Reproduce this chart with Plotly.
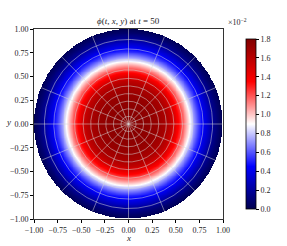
import numpy as np
import plotly.graph_objects as go

# radial profile of phi, units of 1e-2
PROFILE_R = [0.0, 0.1, 0.2, 0.3, 0.4, 0.45, 0.5, 0.55, 0.6, 0.65, 0.7, 0.75, 0.8, 0.85, 0.9, 0.95, 1.0]
PROFILE_PHI = [1.78, 1.77, 1.75, 1.72, 1.65, 1.58, 1.45, 1.30, 1.12, 0.92, 0.72, 0.55, 0.42, 0.30, 0.18, 0.09, 0.02]

# overlay mesh (rings and spokes)
RING_RADII = [0.08, 0.16, 0.24, 0.32, 0.40, 0.48, 0.57, 0.68, 0.79, 0.89]
N_SPOKES = 16

AXIS_TICKS = [-1.0, -0.75, -0.5, -0.25, 0.0, 0.25, 0.5, 0.75, 1.0]
CBAR_TICKS = [0.0, 0.2, 0.4, 0.6, 0.8, 1.0, 1.2, 1.4, 1.6, 1.8]

def fmt(v):
    s = f"{v:.2f}"
    return s.replace("-", "\u2212")

n = 400
xs = np.linspace(-1, 1, n)
X, Y = np.meshgrid(xs, xs)
R = np.sqrt(X**2 + Y**2)
Z = np.interp(R, PROFILE_R, PROFILE_PHI) * 1e-2
Z[R > 1.0] = np.nan

seismic = [[0.0, "rgb(0,0,77)"], [0.25, "rgb(0,0,255)"], [0.5, "rgb(255,255,255)"],
           [0.75, "rgb(255,0,0)"], [1.0, "rgb(128,0,0)"]]

TXT = "#262626"
FONT = "Liberation Serif"

fig = go.Figure()
fig.add_trace(go.Heatmap(
    x=xs, y=xs, z=Z, colorscale=seismic, zmin=0.0, zmax=0.018,
    hoverinfo="skip",
    colorbar=dict(
        x=1.069, xanchor="left", xref="paper", y=0.5, yanchor="middle", len=1.0, lenmode="fraction",
        thickness=10, thicknessmode="pixels", outlinewidth=0.8, outlinecolor="black",
        tickvals=[v * 1e-2 for v in CBAR_TICKS], ticktext=[f"{v:.1f}" for v in CBAR_TICKS],
        ticks="outside", ticklen=3, tickwidth=0.8, tickcolor="black",
        tickfont=dict(family=FONT, size=8, color=TXT),
    ),
))

grid_color = "rgba(215,215,215,0.85)"
th = np.linspace(0, 2 * np.pi, 361)
for r in RING_RADII:
    fig.add_trace(go.Scatter(x=r * np.cos(th), y=r * np.sin(th), mode="lines",
                             line=dict(color=grid_color, width=0.6), hoverinfo="skip", showlegend=False))
for k in range(N_SPOKES):
    a = 2 * np.pi * k / N_SPOKES
    fig.add_trace(go.Scatter(x=[0, np.cos(a)], y=[0, np.sin(a)], mode="lines",
                             line=dict(color=grid_color, width=0.6), hoverinfo="skip", showlegend=False))

axis_common = dict(
    range=[-1, 1], tickvals=AXIS_TICKS, ticktext=[fmt(v) for v in AXIS_TICKS],
    ticks="outside", ticklen=3, tickwidth=0.8, tickcolor="black",
    showline=True, linecolor="#333", linewidth=0.8, mirror=True,
    showgrid=False, zeroline=False, automargin=False,
    tickfont=dict(family=FONT, size=8, color=TXT),
)
fig.update_xaxes(**axis_common)
fig.update_yaxes(**axis_common)

fig.update_layout(
    width=287, height=246,
    margin=dict(l=34, r=64, t=29, b=27, autoexpand=False),
    paper_bgcolor="white", plot_bgcolor="white",
    showlegend=False,
    font=dict(family=FONT, color=TXT),
    annotations=[
        dict(text="<i>ϕ</i>(<i>t</i>, <i>x</i>, <i>y</i>) at <i>t</i> = 50", xref="paper", yref="paper",
             x=0.5, y=1.0, xanchor="center", yanchor="bottom", yshift=1, showarrow=False,
             font=dict(family=FONT, size=9, color=TXT)),
        dict(text="<i>x</i>", xref="paper", yref="paper", x=0.5, y=0, xanchor="center", yanchor="top",
             yshift=-12, showarrow=False, font=dict(family=FONT, size=9, color=TXT)),
        dict(text="<i>y</i>", xref="paper", yref="paper", x=0, y=0.5, xanchor="right", yanchor="middle",
             xshift=-21, yshift=2, showarrow=False, font=dict(family=FONT, size=9, color=TXT)),
        dict(text="×10<sup>−2</sup>", xref="paper", yref="paper", x=1.069, y=1.0, xanchor="center",
             yanchor="bottom", xshift=1, yshift=0, showarrow=False,
             font=dict(family=FONT, size=8, color=TXT)),
    ],
)

fig.write_html("out.html", config={"responsive": False, "displayModeBar": False},
               post_script="document.body.style.margin='0';document.body.style.padding='0';")
